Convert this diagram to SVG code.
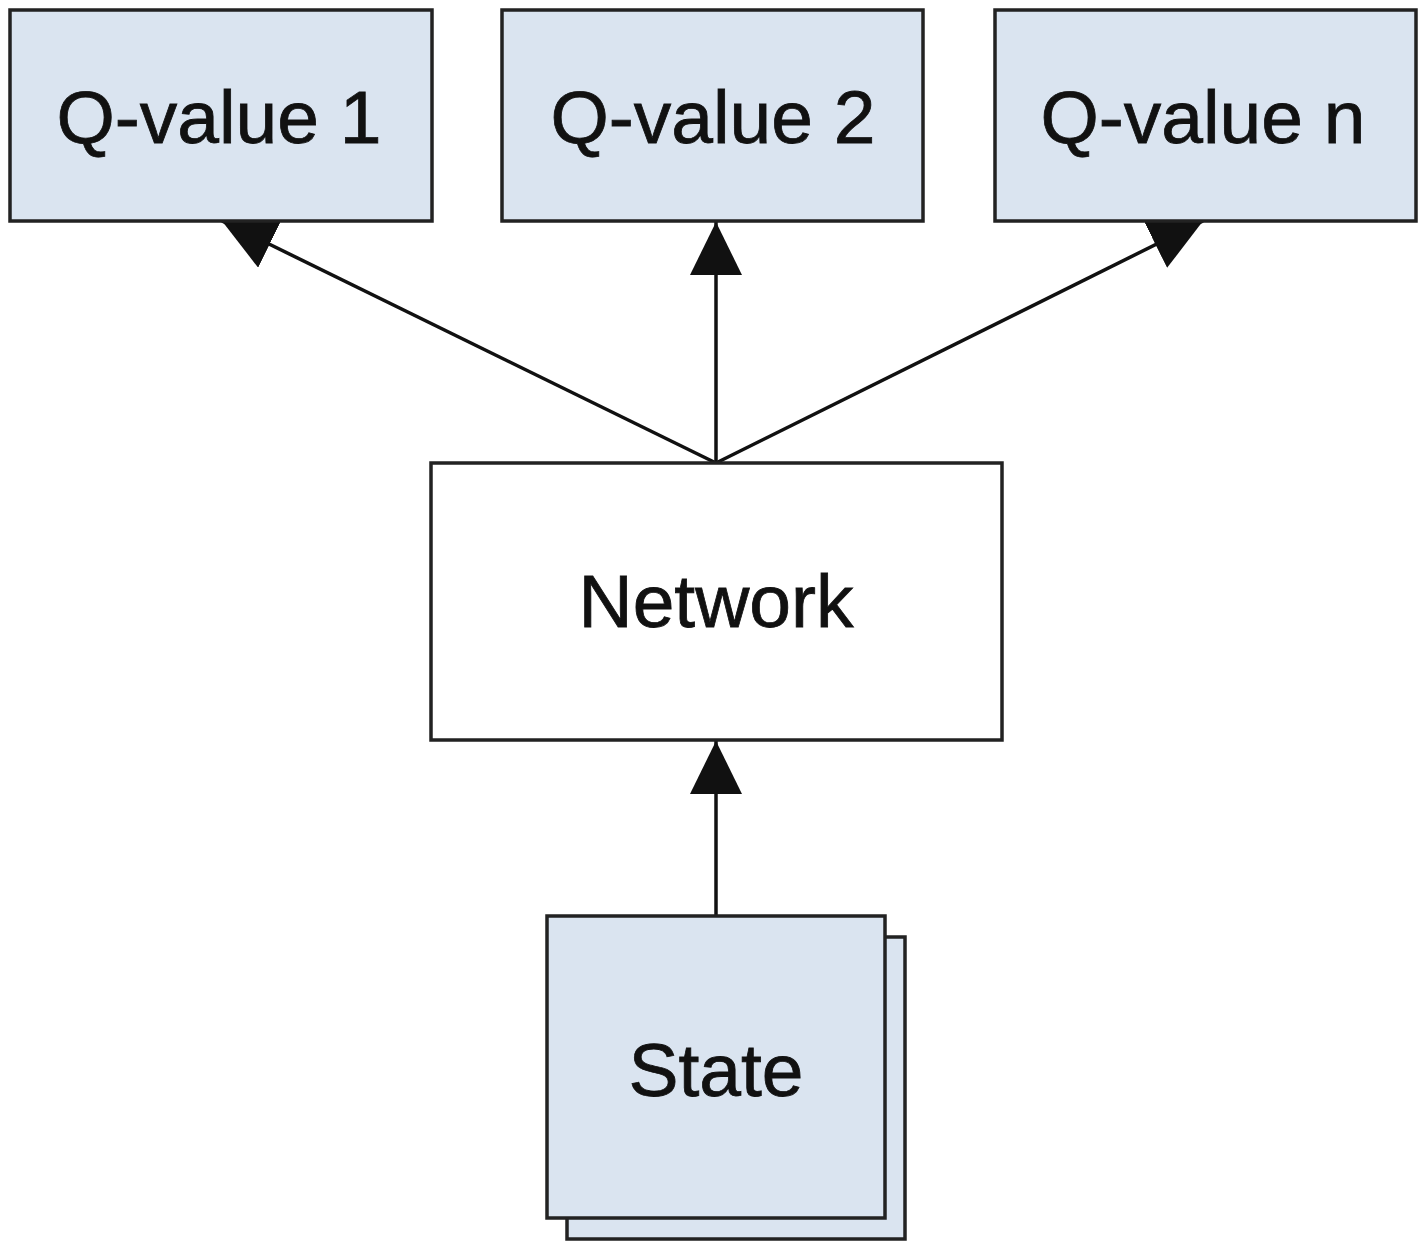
<svg xmlns="http://www.w3.org/2000/svg" width="1425" height="1249" viewBox="0 0 1425 1249">
  <style>
    .box { stroke: #222222; stroke-width: 3.5; }
    .q { fill: #dae4f0; }
    .plain { fill: #ffffff; }
    .label { font-family: "Liberation Sans", Arial, sans-serif; font-size: 75px; fill: #111111; stroke: #111111; stroke-width: 0.8; text-anchor: middle; }
    .edge { stroke: #111111; stroke-width: 3.5; fill: none; marker-end: url(#arrow); }
  </style>
  <defs>
    <marker id="arrow" markerUnits="userSpaceOnUse" viewBox="0 0 53 52" refX="53" refY="26" markerWidth="53" markerHeight="52" orient="auto">
      <path d="M0,0 L53,26 L0,52 Z" fill="#111111"/>
    </marker>
  </defs>
  <rect width="1425" height="1249" fill="#ffffff"/>

  <!-- connectors -->
  <g id="connectors">
    <line class="edge" x1="716" y1="463" x2="222" y2="221"/>
    <line class="edge" x1="716" y1="463" x2="716" y2="222"/>
    <line class="edge" x1="716" y1="463" x2="1203" y2="221"/>
    <line class="edge" x1="716" y1="915" x2="716" y2="741"/>
  </g>

  <!-- output nodes -->
  <g id="q1">
    <rect class="box q" x="10" y="10" width="422" height="211"/>
    <text class="label" x="219" y="143">Q-value 1</text>
  </g>
  <g id="q2">
    <rect class="box q" x="502" y="10" width="421" height="211"/>
    <text class="label" x="713" y="143">Q-value 2</text>
  </g>
  <g id="qn">
    <rect class="box q" x="995" y="10" width="421" height="211"/>
    <text class="label" x="1203" y="143">Q-value n</text>
  </g>

  <!-- model -->
  <g id="network">
    <rect class="box plain" x="431" y="463" width="571" height="277"/>
    <text class="label" x="716" y="627">Network</text>
  </g>

  <!-- input: stacked state frames -->
  <g id="state">
    <rect class="box q" x="567" y="937" width="338" height="302"/>
    <rect class="box q" x="547" y="916" width="338" height="302"/>
    <text class="label" x="716" y="1096">State</text>
  </g>
</svg>
